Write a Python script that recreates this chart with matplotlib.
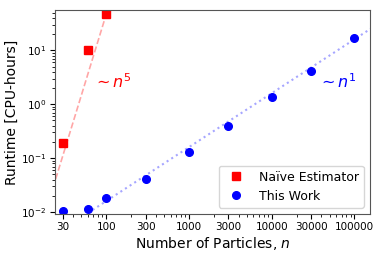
import matplotlib
matplotlib.use("Agg")
import matplotlib.pyplot as plt
import numpy as np

# data
naive_n = [30, 60, 100]
naive_time = [0.19, 10.0, 47.0]

ours_n = [30, 60, 100, 300, 1000, 3000, 10000, 30000, 100000]
ours_time = [0.0105, 0.0112, 0.018, 0.041, 0.13, 0.40, 1.35, 4.1, 17.0]

x_ticks = [30, 100, 300, 1000, 3000, 10000, 30000, 100000]

# scaling guides
n5_coef = 4.7e-9
n1_coef = 1.6e-4

fig, ax = plt.subplots(figsize=(3.82, 2.56), dpi=100)
fig.subplots_adjust(left=0.144, right=0.969, top=0.961, bottom=0.164)

# guide lines
n_fit = np.logspace(1.2, 2.3, 50)
ax.plot(n_fit, n5_coef * n_fit ** 5, ls="--", color="red", alpha=0.35, lw=1.2)
n_fit1 = np.logspace(1.5, 5.4, 50)
ax.plot(n_fit1, n1_coef * n_fit1, ls=":", color="blue", alpha=0.35, lw=1.5)

ax.plot(naive_n, naive_time, "s", color="red", ms=5.5, label="Naïve Estimator")
ax.plot(ours_n, ours_time, "o", color="blue", ms=5.5, label="This Work")

ax.set_xscale("log")
ax.set_yscale("log")
ax.set_xlim(24, 155000)
ax.set_ylim(0.0092, 56)

ax.set_xticks(x_ticks)
ax.set_xticklabels([str(t) for t in x_ticks])
ax.tick_params(labelsize=7.5, pad=2.5)

ax.set_xlabel("Number of Particles, $n$", fontsize=10, labelpad=2)
ax.set_ylabel("Runtime [CPU-hours]", fontsize=10, labelpad=2)

ax.text(0.12, 0.62, r"$\sim n^5$", color="red", fontsize=11.5, transform=ax.transAxes)
ax.text(0.835, 0.62, r"$\sim n^1$", color="blue", fontsize=11.5, transform=ax.transAxes)

for s in ax.spines.values():
    s.set_color("#555555")

ax.legend(loc="lower right", fontsize=9)

fig.savefig("out.png", dpi=100)
